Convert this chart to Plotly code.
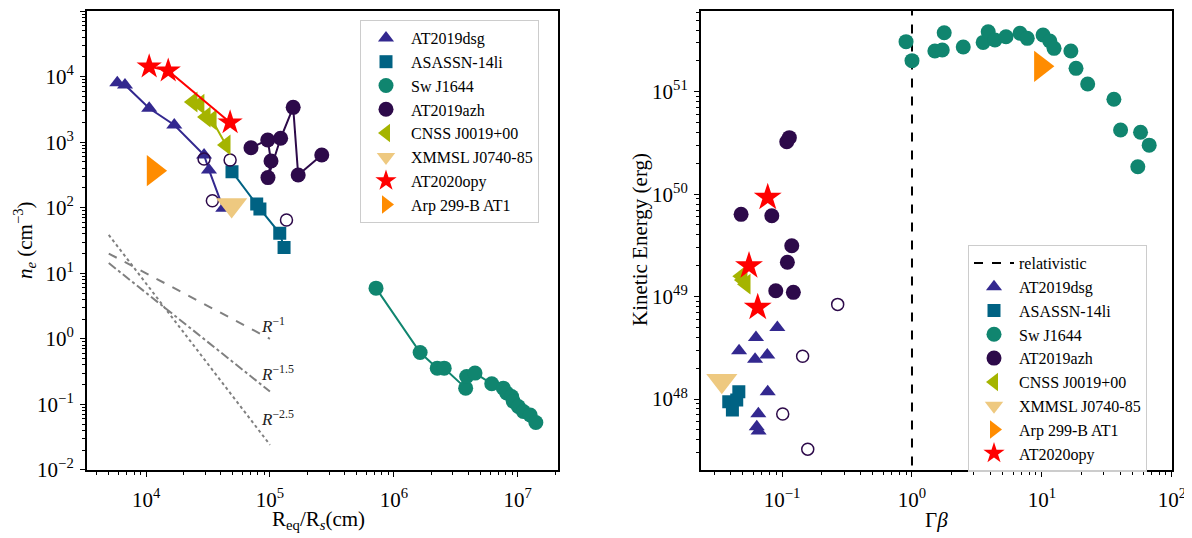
import math
import plotly.graph_objects as go

# ---------------- Left panel: electron density vs radius ----------------
dsg_r = [5.86e3, 6.76e3, 1.06e4, 1.69e4, 2.94e4, 3.22e4, 4.2e4]
dsg_n = [8.07e3, 7.45e3, 3.29e3, 1.83e3, 638, 377, 98]
li_r = [4.94e4, 7.82e4, 8.3e4, 1.2e5, 1.3e5]
li_n = [355, 114, 96, 40.8, 24.8]
sw_r = [7.18e5, 1.63e6, 2.24e6, 2.55e6, 3.8e6, 3.87e6, 4.52e6, 6.17e6,
        7.65e6, 8.15e6, 8.93e6, 9.2e6, 1.01e7, 1.11e7, 1.26e7, 1.40e7]
sw_n = [5.93, 0.618, 0.357, 0.357, 0.177, 0.266, 0.30, 0.206,
        0.177, 0.149, 0.132, 0.111, 0.093, 0.078, 0.069, 0.053]
azh_r = [7.03e4, 9.6e4, 1.02e5, 9.64e4, 1.22e5, 1.54e5, 1.69e5, 2.62e5]
azh_n = [824, 1081, 516, 288, 1146, 3400, 316, 638]
azh_open_r = [2.94e4, 4.77e4, 3.43e4, 1.36e5]
azh_open_n = [555, 535, 128, 65]
cnss_r = [2.39e4, 2.72e4, 3.05e4, 3.41e4, 4.42e4]
cnss_n = [4100, 3820, 2420, 2180, 906]
xmm_r = [4.91e4]
xmm_n = [110]
opy_r = [1.06e4, 1.51e4, 4.77e4]
opy_n = [1.42e4, 1.23e4, 1995]
arp_r = [1.15e4]
arp_n = [368]
guide_r = [5e3, 1e5]
guide_p1 = [20.0, 1.0]
guide_p15 = [14.3, 0.157]
guide_p25 = [38.5, 0.0242]
guide_labels = ["<i>R</i><sup>−1</sup>", "<i>R</i><sup>−1.5</sup>", "<i>R</i><sup>−2.5</sup>"]
guide_label_r = [8.2e4, 8.2e4, 8.2e4]
guide_label_n = [1.63, 0.303, 0.0625]

# ---------------- Right panel: kinetic energy vs Gamma*beta ----------------
dsg_gb = [0.092, 0.063, 0.0467, 0.062, 0.077, 0.0776, 0.0657, 0.0639, 0.066]
dsg_ek = [5.0e48, 3.99e48, 2.96e48, 2.45e48, 2.69e48, 1.18e48, 7.2e47, 5.35e47, 4.86e47]
li_gb = [0.0465, 0.0389, 0.0415, 0.0448]
li_ek = [1.18e48, 9.4e47, 7.8e47, 9.8e47]
sw_gb = [0.90, 1.0, 1.50, 1.71, 1.77, 2.48, 3.53, 3.86, 4.35, 5.29, 6.78, 7.71,
         10.2, 11.5, 12.4, 16.7, 18.3, 22.5, 35.8, 40.3, 57.4, 66.9, 54.7]
sw_ek = [3.08e51, 2.01e51, 2.5e51, 2.55e51, 3.77e51, 2.73e51, 3.03e51, 3.85e51,
         3.2e51, 3.44e51, 3.72e51, 3.32e51, 3.58e51, 3.13e51, 2.65e51, 2.5e51,
         1.69e51, 1.19e51, 8.44e50, 4.23e50, 4.02e50, 3.01e50, 1.85e50]
azh_gb = [0.1087, 0.1138, 0.0484, 0.0834, 0.1188, 0.1099, 0.0895, 0.1222]
azh_ek = [3.25e50, 3.56e50, 6.35e49, 6.15e49, 3.13e49, 2.16e49, 1.14e49, 1.1e49]
azh_open_gb = [0.268, 0.144, 0.1012, 0.1577]
azh_open_ek = [8.39e48, 2.62e48, 7.13e47, 3.24e47]
cnss_gb = [0.0486, 0.0500, 0.0528]
cnss_ek = [1.58e49, 1.45e49, 1.32e49]
xmm_gb = [0.0344]
xmm_ek = [1.51e48]
arp_gb = [9.82]
arp_ek = [1.77e51]
opy_gb = [0.0776, 0.0557, 0.065]
opy_ek = [9.3e49, 2.0e49, 7.85e48]
rel_gb = [1.0, 1.0]
rel_ek = [1e47, 1e52]

# ---------------- styles ----------------
C_DSG = "#33288f"
C_LI = "#006283"
C_SW = "#10856f"
C_AZH = "#2d0a4a"
C_CNSS = "#a5b400"
C_XMM = "#eec980"
C_ARP = "#ff8c00"
C_OPY = "#ff0000"
FONT = "Liberation Serif"

# the page body has an 8px margin: figure pixel = page pixel - 8
OFF = 8
W, H = 1192 - OFF, 538 - OFF


def px(xp):
    return (xp - OFF) / W


def py(yp):
    return 1 - (yp - OFF) / H


fig = go.Figure()


def add(x, y, xa, ya, name, color, symbol, size, legend, showlegend=True,
        line=False, open_marker=False):
    if line:
        fig.add_trace(go.Scatter(x=x, y=y, mode="lines", xaxis=xa, yaxis=ya,
                                 line=dict(color=color, width=2),
                                 showlegend=False, hoverinfo="skip"))
    if open_marker:
        marker = dict(symbol="circle-open", size=size, color=C_AZH,
                      line=dict(width=1.5, color=C_AZH))
    else:
        marker = dict(symbol=symbol, size=size, color=color, line=dict(width=0))
    fig.add_trace(go.Scatter(x=x, y=y, mode="markers", xaxis=xa, yaxis=ya,
                             name=name, marker=marker, legend=legend,
                             showlegend=showlegend))


# guide lines (left)
for gy, dash in [(guide_p1, "dash"), (guide_p15, "dashdot"), (guide_p25, "dot")]:
    fig.add_trace(go.Scatter(x=guide_r, y=gy, mode="lines", xaxis="x", yaxis="y",
                             line=dict(color="#808080", width=2, dash=dash),
                             showlegend=False, hoverinfo="skip"))

add(dsg_r, dsg_n, "x", "y", "AT2019dsg", C_DSG, "triangle-up", 14, "legend", line=True)
add(li_r, li_n, "x", "y", "ASASSN-14li", C_LI, "square", 13, "legend", line=True)
add(sw_r, sw_n, "x", "y", "Sw J1644", C_SW, "circle", 15, "legend", line=True)
add(azh_r, azh_n, "x", "y", "AT2019azh", C_AZH, "circle", 15, "legend", line=True)
add(azh_open_r, azh_open_n, "x", "y", "", C_AZH, "circle-open", 12, "legend",
    showlegend=False, open_marker=True)
add(cnss_r, cnss_n, "x", "y", "CNSS J0019+00", C_CNSS, "triangle-left", 18, "legend", line=True)
add(xmm_r, xmm_n, "x", "y", "XMMSL J0740-85", C_XMM, "triangle-down", 27, "legend")
add(opy_r, opy_n, "x", "y", "AT2020opy", C_OPY, "star", 19, "legend", line=True)
add(arp_r, arp_n, "x", "y", "Arp 299-B AT1", C_ARP, "triangle-right", 27, "legend")

# right panel
fig.add_trace(go.Scatter(x=rel_gb, y=rel_ek, mode="lines", xaxis="x2", yaxis="y2",
                         name="relativistic", legend="legend2",
                         line=dict(color="black", width=2, dash="dash")))
add(dsg_gb, dsg_ek, "x2", "y2", "AT2019dsg", C_DSG, "triangle-up", 14, "legend2")
add(li_gb, li_ek, "x2", "y2", "ASASSN-14li", C_LI, "square", 13, "legend2")
add(sw_gb, sw_ek, "x2", "y2", "Sw J1644", C_SW, "circle", 15, "legend2")
add(azh_gb, azh_ek, "x2", "y2", "AT2019azh", C_AZH, "circle", 15, "legend2")
add(azh_open_gb, azh_open_ek, "x2", "y2", "", C_AZH, "circle-open", 12, "legend2",
    showlegend=False, open_marker=True)
add(cnss_gb, cnss_ek, "x2", "y2", "CNSS J0019+00", C_CNSS, "triangle-left", 18, "legend2")
add(xmm_gb, xmm_ek, "x2", "y2", "XMMSL J0740-85", C_XMM, "triangle-down", 27, "legend2")
add(arp_gb, arp_ek, "x2", "y2", "Arp 299-B AT1", C_ARP, "triangle-right", 27, "legend2")
add(opy_gb, opy_ek, "x2", "y2", "AT2020opy", C_OPY, "star", 21, "legend2")


def sup(p):
    return "10<sup>" + (("−" + str(-p)) if p < 0 else str(p)) + "</sup>"


def minor_vals(lo, hi):
    return [k * 10.0 ** e for e in range(lo, hi) for k in range(2, 10)]


def log_axis(domain, rng, majors, anchor, minor_range, standoff):
    return dict(type="log", domain=domain, range=rng, anchor=anchor,
                tickmode="array", tickvals=[10.0 ** p for p in majors],
                ticktext=[sup(p) for p in majors],
                ticks="outside", ticklen=5, tickwidth=1, tickcolor="black",
                ticklabelstandoff=standoff,
                minor=dict(tickmode="array", tickvals=minor_vals(*minor_range),
                           ticks="outside", ticklen=3, tickwidth=0.8,
                           tickcolor="black", showgrid=False),
                showline=True, linecolor="black", linewidth=1.5, mirror=True,
                showgrid=False, zeroline=False, automargin=False,
                tickfont=dict(family=FONT, size=21, color="black"))


ydom = [py(470), py(11)]
LEG = dict(bgcolor="rgba(255,255,255,0.8)", bordercolor="#cccccc", borderwidth=1,
           font=dict(family=FONT, size=16, color="black"), itemsizing="trace",
           itemwidth=40, xanchor="left", yanchor="top")
fig.update_layout(
    width=W, height=H, margin=dict(l=0, r=0, t=0, b=0),
    paper_bgcolor="white", plot_bgcolor="white",
    font=dict(family=FONT, color="black"),
    xaxis=log_axis([px(86.7), px(558)], [3.521, 7.325], [4, 5, 6, 7], "y", (3, 8), 5),
    yaxis=log_axis(ydom, [-2.001, 5.001], list(range(-2, 6)), "x", (-2, 5), 2),
    xaxis2=log_axis([px(700.7), px(1172)], [-1.626, 2.001], [-1, 0, 1, 2], "y2", (-2, 2), 5),
    yaxis2=log_axis(ydom, [47.307, 51.788], [48, 49, 50, 51], "x2", (47, 52), 2),
    legend=dict(x=px(360), y=py(20), **LEG),
    legend2=dict(x=px(968), y=py(245), **LEG),
)

ann = []
for t, xr, yn in zip(guide_labels, guide_label_r, guide_label_n):
    ann.append(dict(x=math.log10(xr), y=math.log10(yn), xref="x", yref="y", text=t,
                    showarrow=False, xanchor="left", yanchor="middle",
                    font=dict(family=FONT, size=17, color="#222222")))
TITLE = dict(xref="paper", yref="paper", showarrow=False, xanchor="center",
             yanchor="middle")
ann += [
    dict(x=px(318), y=py(520), text="R<sub>eq</sub>/R<sub><i>s</i></sub>(cm)",
         font=dict(family=FONT, size=21, color="black"), **TITLE),
    dict(x=px(24), y=py(240), textangle=-90,
         text="<i>n<sub>e</sub></i> (cm<sup>−3</sup>)",
         font=dict(family=FONT, size=21, color="black"), **TITLE),
    dict(x=px(936), y=py(520), text="Γ<i>β</i>",
         font=dict(family=FONT, size=21, color="black"), **TITLE),
    dict(x=px(640), y=py(240), textangle=-90, text="Kinetic Energy (erg)",
         font=dict(family=FONT, size=21, color="black"), **TITLE),
]
fig.update_layout(annotations=ann)

fig.write_html("out.html")
